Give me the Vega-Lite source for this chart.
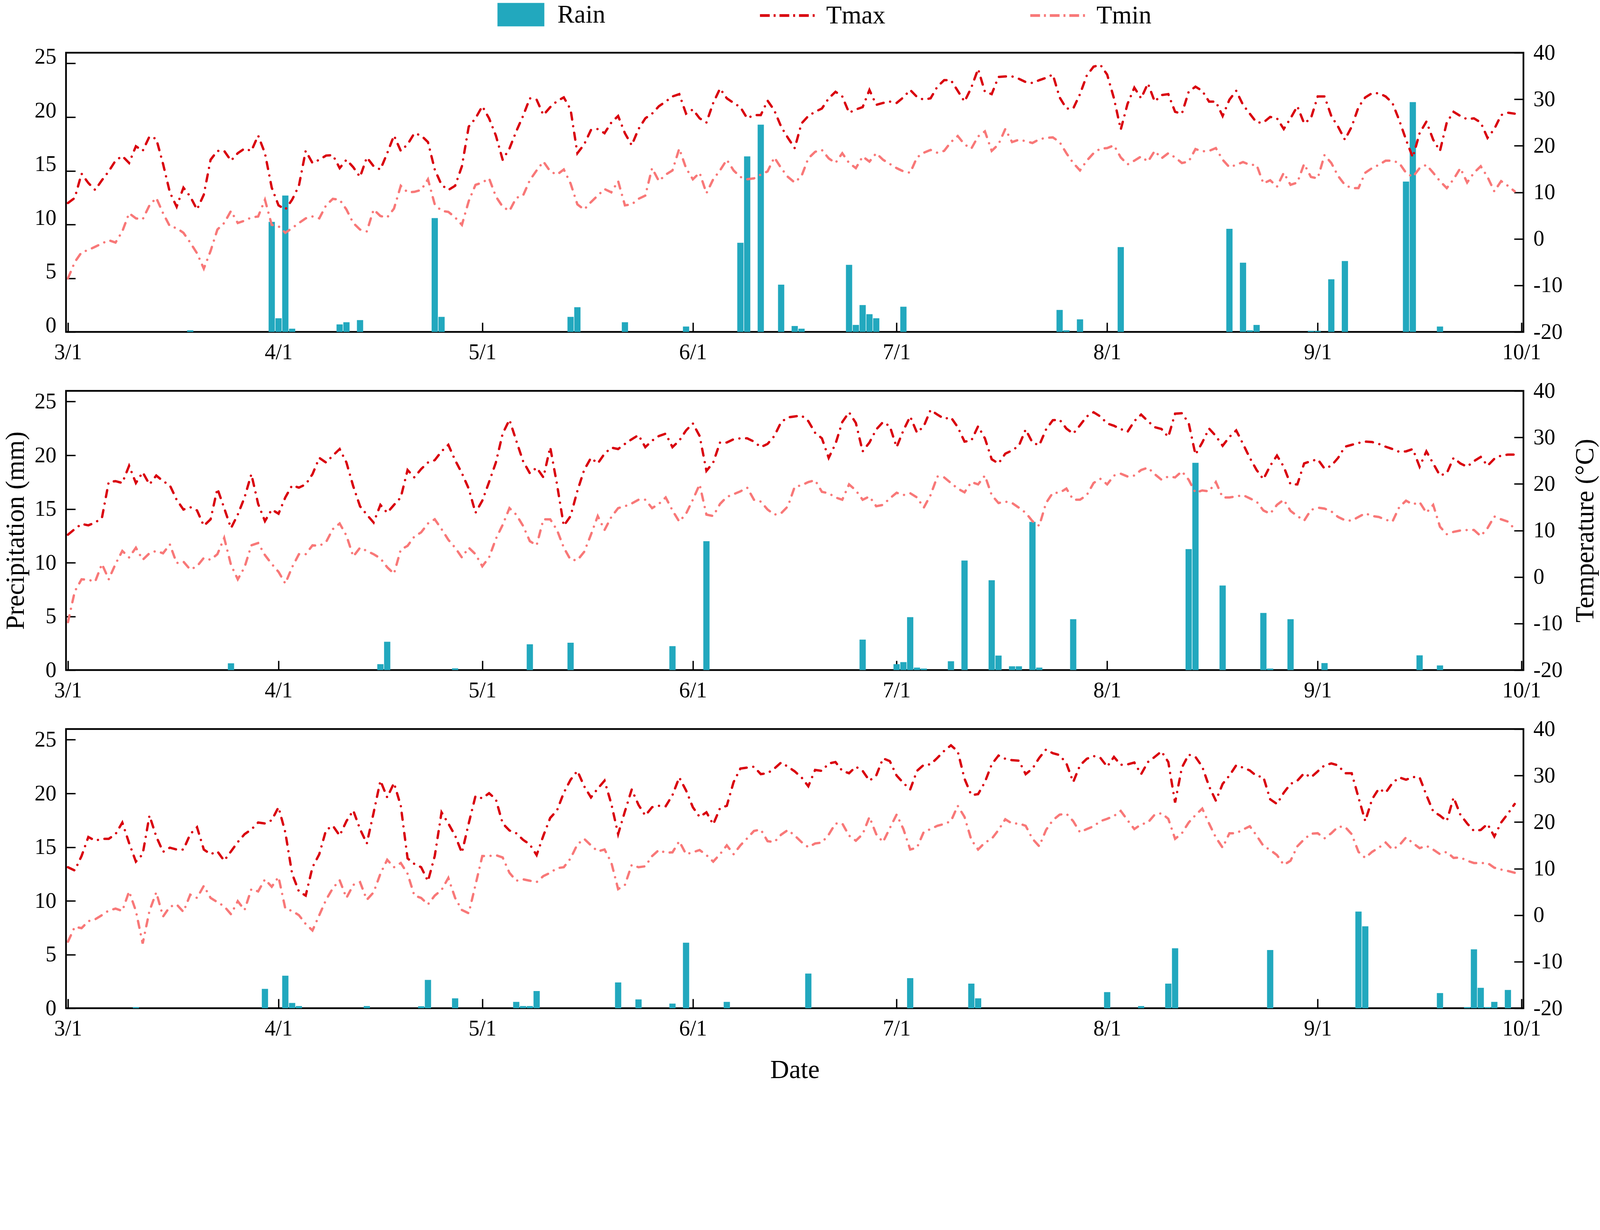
{
"$schema":"https://vega.github.io/schema/vega-lite/v6.json",
"background":"white",
"padding":{"left":3,"top":4,"right":0,"bottom":0},
"bounds":"flush",
"spacing":151,
"config":{
"view":{"stroke":"black","strokeWidth":4.4},
"font":"Liberation Serif",
"axis":{"labelFont":"Liberation Serif","labelFontSize":56,"labelColor":"black","titleFont":"Liberation Serif","titleFontSize":67,"titleFontWeight":"normal","titleColor":"black","domain":false,"grid":false,"tickColor":"black","tickWidth":3.5,"tickSize":-24,"labelPadding":49,"labelFlush":false,"labelOverlap":false}
},
"datasets":{
"rain2021":[{"date":"2021-03-19","rain":0.15},{"date":"2021-03-31","rain":10.25},{"date":"2021-04-01","rain":1.27},{"date":"2021-04-02","rain":12.7},{"date":"2021-04-03","rain":0.3},{"date":"2021-04-10","rain":0.7},{"date":"2021-04-11","rain":0.9},{"date":"2021-04-13","rain":1.1},{"date":"2021-04-24","rain":10.6},{"date":"2021-04-25","rain":1.4},{"date":"2021-05-14","rain":1.4},{"date":"2021-05-15","rain":2.3},{"date":"2021-05-22","rain":0.9},{"date":"2021-05-31","rain":0.5},{"date":"2021-06-08","rain":8.3},{"date":"2021-06-09","rain":16.35},{"date":"2021-06-11","rain":19.3},{"date":"2021-06-14","rain":4.4},{"date":"2021-06-16","rain":0.55},{"date":"2021-06-17","rain":0.3},{"date":"2021-06-24","rain":6.25},{"date":"2021-06-25","rain":0.65},{"date":"2021-06-26","rain":2.5},{"date":"2021-06-27","rain":1.65},{"date":"2021-06-28","rain":1.27},{"date":"2021-07-02","rain":2.35},{"date":"2021-07-25","rain":2.05},{"date":"2021-07-26","rain":0.15},{"date":"2021-07-28","rain":1.17},{"date":"2021-08-03","rain":7.9},{"date":"2021-08-19","rain":9.6},{"date":"2021-08-21","rain":6.45},{"date":"2021-08-22","rain":0.15},{"date":"2021-08-23","rain":0.65},{"date":"2021-08-31","rain":0.1},{"date":"2021-09-01","rain":0.1},{"date":"2021-09-03","rain":4.9},{"date":"2021-09-05","rain":6.6},{"date":"2021-09-14","rain":14.0},{"date":"2021-09-15","rain":21.4},{"date":"2021-09-19","rain":0.5}],
"rain2022":[{"date":"2022-03-25","rain":0.63},{"date":"2022-04-16","rain":0.55},{"date":"2022-04-17","rain":2.64},{"date":"2022-04-27","rain":0.16},{"date":"2022-05-08","rain":2.4},{"date":"2022-05-14","rain":2.55},{"date":"2022-05-29","rain":2.23},{"date":"2022-06-03","rain":12.0},{"date":"2022-06-26","rain":2.84},{"date":"2022-07-01","rain":0.55},{"date":"2022-07-02","rain":0.74},{"date":"2022-07-03","rain":4.93},{"date":"2022-07-04","rain":0.23},{"date":"2022-07-05","rain":0.14},{"date":"2022-07-09","rain":0.82},{"date":"2022-07-11","rain":10.2},{"date":"2022-07-15","rain":8.36},{"date":"2022-07-16","rain":1.35},{"date":"2022-07-18","rain":0.35},{"date":"2022-07-19","rain":0.35},{"date":"2022-07-21","rain":13.8},{"date":"2022-07-22","rain":0.23},{"date":"2022-07-27","rain":4.74},{"date":"2022-08-13","rain":11.26},{"date":"2022-08-14","rain":19.3},{"date":"2022-08-18","rain":7.87},{"date":"2022-08-24","rain":5.32},{"date":"2022-08-25","rain":0.14},{"date":"2022-08-28","rain":4.74},{"date":"2022-09-02","rain":0.65},{"date":"2022-09-16","rain":1.37},{"date":"2022-09-19","rain":0.43}],
"rain2023":[{"date":"2023-03-11","rain":0.1},{"date":"2023-03-30","rain":1.8},{"date":"2023-04-02","rain":3.03},{"date":"2023-04-03","rain":0.49},{"date":"2023-04-04","rain":0.2},{"date":"2023-04-14","rain":0.2},{"date":"2023-04-22","rain":0.18},{"date":"2023-04-23","rain":2.64},{"date":"2023-04-27","rain":0.92},{"date":"2023-05-06","rain":0.59},{"date":"2023-05-07","rain":0.2},{"date":"2023-05-08","rain":0.2},{"date":"2023-05-09","rain":1.6},{"date":"2023-05-21","rain":2.4},{"date":"2023-05-24","rain":0.82},{"date":"2023-05-29","rain":0.43},{"date":"2023-05-31","rain":6.1},{"date":"2023-06-06","rain":0.59},{"date":"2023-06-18","rain":3.23},{"date":"2023-07-03","rain":2.8},{"date":"2023-07-12","rain":2.29},{"date":"2023-07-13","rain":0.92},{"date":"2023-08-01","rain":1.5},{"date":"2023-08-06","rain":0.2},{"date":"2023-08-10","rain":2.29},{"date":"2023-08-11","rain":5.58},{"date":"2023-08-25","rain":5.42},{"date":"2023-09-07","rain":9.0},{"date":"2023-09-08","rain":7.63},{"date":"2023-09-19","rain":1.41},{"date":"2023-09-23","rain":0.1},{"date":"2023-09-24","rain":5.48},{"date":"2023-09-25","rain":1.9},{"date":"2023-09-26","rain":0.1},{"date":"2023-09-27","rain":0.59},{"date":"2023-09-29","rain":1.7}],
"temp2021":[
{"date":"2021-03-01","tmax":7.7,"tmin":-8.5},{"date":"2021-03-02","tmax":8.8,"tmin":-5.0},{"date":"2021-03-03","tmax":14.0,"tmin":-2.9},{"date":"2021-03-04","tmax":12.0,"tmin":-2.4},{"date":"2021-03-05","tmax":10.5,"tmin":-1.7},{"date":"2021-03-06","tmax":12.6,"tmin":-1.0},{"date":"2021-03-07","tmax":14.5,"tmin":-0.3},{"date":"2021-03-08","tmax":16.8,"tmin":-0.8},{"date":"2021-03-09","tmax":17.8,"tmin":1.6},{"date":"2021-03-10","tmax":16.3,"tmin":5.5},{"date":"2021-03-11","tmax":19.9,"tmin":4.4},{"date":"2021-03-12","tmax":18.9,"tmin":4.2},{"date":"2021-03-13","tmax":22.0,"tmin":7.2},{"date":"2021-03-14","tmax":21.5,"tmin":8.8},{"date":"2021-03-15","tmax":16.1,"tmin":5.5},{"date":"2021-03-16","tmax":10.0,"tmin":2.7},{"date":"2021-03-17","tmax":6.9,"tmin":2.3},{"date":"2021-03-18","tmax":11.0,"tmin":1.3},{"date":"2021-03-19","tmax":9.1,"tmin":-0.8},{"date":"2021-03-20","tmax":6.3,"tmin":-3.1},{"date":"2021-03-21","tmax":9.5,"tmin":-6.4},{"date":"2021-03-22","tmax":17.0,"tmin":-2.6},{"date":"2021-03-23","tmax":18.9,"tmin":2.0},{"date":"2021-03-24","tmax":18.9,"tmin":3.4},{"date":"2021-03-25","tmax":16.8,"tmin":6.0},{"date":"2021-03-26","tmax":18.4,"tmin":3.4},{"date":"2021-03-27","tmax":19.4,"tmin":3.9},{"date":"2021-03-28","tmax":18.9,"tmin":4.6},{"date":"2021-03-29","tmax":22.2,"tmin":4.8},{"date":"2021-03-30","tmax":18.4,"tmin":8.4},{"date":"2021-03-31","tmax":11.0,"tmin":3.0},
{"date":"2021-04-01","tmax":7.2,"tmin":2.7},{"date":"2021-04-02","tmax":6.3,"tmin":1.3},{"date":"2021-04-03","tmax":8.4,"tmin":2.3},{"date":"2021-04-04","tmax":11.4,"tmin":3.4},{"date":"2021-04-05","tmax":18.9,"tmin":4.4},{"date":"2021-04-06","tmax":16.3,"tmin":4.8},{"date":"2021-04-07","tmax":17.0,"tmin":4.4},{"date":"2021-04-08","tmax":17.9,"tmin":7.2},{"date":"2021-04-09","tmax":18.0,"tmin":8.6},{"date":"2021-04-10","tmax":15.2,"tmin":8.4},{"date":"2021-04-11","tmax":17.0,"tmin":6.3},{"date":"2021-04-12","tmax":15.4,"tmin":3.4},{"date":"2021-04-13","tmax":13.3,"tmin":2.0},{"date":"2021-04-14","tmax":17.5,"tmin":1.6},{"date":"2021-04-15","tmax":15.6,"tmin":6.3},{"date":"2021-04-16","tmax":14.9,"tmin":4.9},{"date":"2021-04-17","tmax":18.4,"tmin":4.6},{"date":"2021-04-18","tmax":22.2,"tmin":6.5},{"date":"2021-04-19","tmax":18.9,"tmin":11.4},{"date":"2021-04-20","tmax":20.3,"tmin":10.0},{"date":"2021-04-21","tmax":22.7,"tmin":10.1},{"date":"2021-04-22","tmax":22.2,"tmin":10.5},{"date":"2021-04-23","tmax":20.8,"tmin":12.8},{"date":"2021-04-24","tmax":14.9,"tmin":7.4},{"date":"2021-04-25","tmax":11.6,"tmin":6.0},{"date":"2021-04-26","tmax":10.5,"tmin":5.8},{"date":"2021-04-27","tmax":11.4,"tmin":4.6},{"date":"2021-04-28","tmax":15.6,"tmin":3.0},{"date":"2021-04-29","tmax":24.1,"tmin":8.1},{"date":"2021-04-30","tmax":25.9,"tmin":11.6},
{"date":"2021-05-01","tmax":28.5,"tmin":12.1},{"date":"2021-05-02","tmax":25.9,"tmin":13.0},{"date":"2021-05-03","tmax":22.2,"tmin":9.1},{"date":"2021-05-04","tmax":17.0,"tmin":6.9},{"date":"2021-05-05","tmax":19.4,"tmin":6.0},{"date":"2021-05-06","tmax":23.1,"tmin":8.8},{"date":"2021-05-07","tmax":26.4,"tmin":9.3},{"date":"2021-05-08","tmax":30.2,"tmin":12.6},{"date":"2021-05-09","tmax":29.9,"tmin":14.7},{"date":"2021-05-10","tmax":26.6,"tmin":16.6},{"date":"2021-05-11","tmax":28.3,"tmin":14.5},{"date":"2021-05-12","tmax":29.6,"tmin":13.8},{"date":"2021-05-13","tmax":30.4,"tmin":14.9},{"date":"2021-05-14","tmax":27.8,"tmin":11.9},{"date":"2021-05-15","tmax":18.4,"tmin":7.4},{"date":"2021-05-16","tmax":20.3,"tmin":6.3},{"date":"2021-05-17","tmax":23.4,"tmin":7.9},{"date":"2021-05-18","tmax":23.6,"tmin":9.3},{"date":"2021-05-19","tmax":22.7,"tmin":10.7},{"date":"2021-05-20","tmax":25.0,"tmin":10.0},{"date":"2021-05-21","tmax":26.4,"tmin":12.4},{"date":"2021-05-22","tmax":22.7,"tmin":7.2},{"date":"2021-05-23","tmax":20.1,"tmin":7.4},{"date":"2021-05-24","tmax":23.6,"tmin":8.6},{"date":"2021-05-25","tmax":25.9,"tmin":9.3},{"date":"2021-05-26","tmax":26.9,"tmin":15.2},{"date":"2021-05-27","tmax":28.5,"tmin":12.4},{"date":"2021-05-28","tmax":29.5,"tmin":13.8},{"date":"2021-05-29","tmax":30.6,"tmin":14.7},{"date":"2021-05-30","tmax":31.1,"tmin":19.4},{"date":"2021-05-31","tmax":26.9,"tmin":15.2},
{"date":"2021-06-01","tmax":27.8,"tmin":12.8},{"date":"2021-06-02","tmax":25.9,"tmin":14.2},{"date":"2021-06-03","tmax":25.0,"tmin":9.8},{"date":"2021-06-04","tmax":29.2,"tmin":12.8},{"date":"2021-06-05","tmax":32.3,"tmin":14.7},{"date":"2021-06-06","tmax":30.2,"tmin":17.0},{"date":"2021-06-07","tmax":29.2,"tmin":14.7},{"date":"2021-06-08","tmax":28.3,"tmin":13.3},{"date":"2021-06-09","tmax":25.9,"tmin":12.8},{"date":"2021-06-10","tmax":26.6,"tmin":13.0},{"date":"2021-06-11","tmax":26.6,"tmin":13.8},{"date":"2021-06-12","tmax":29.7,"tmin":14.5},{"date":"2021-06-13","tmax":27.6,"tmin":17.5},{"date":"2021-06-14","tmax":24.1,"tmin":15.2},{"date":"2021-06-15","tmax":21.7,"tmin":13.3},{"date":"2021-06-16","tmax":19.5,"tmin":12.1},{"date":"2021-06-17","tmax":24.8,"tmin":13.5},{"date":"2021-06-18","tmax":26.4,"tmin":17.3},{"date":"2021-06-19","tmax":27.3,"tmin":18.7},{"date":"2021-06-20","tmax":28.0,"tmin":19.1},{"date":"2021-06-21","tmax":30.2,"tmin":17.3},{"date":"2021-06-22","tmax":31.6,"tmin":16.3},{"date":"2021-06-23","tmax":30.6,"tmin":18.4},{"date":"2021-06-24","tmax":27.1,"tmin":16.3},{"date":"2021-06-25","tmax":27.8,"tmin":15.2},{"date":"2021-06-26","tmax":28.3,"tmin":17.7},{"date":"2021-06-27","tmax":32.0,"tmin":16.6},{"date":"2021-06-28","tmax":28.8,"tmin":18.4},{"date":"2021-06-29","tmax":29.2,"tmin":17.0},{"date":"2021-06-30","tmax":29.5,"tmin":16.1},
{"date":"2021-07-01","tmax":29.2,"tmin":15.2},{"date":"2021-07-02","tmax":30.4,"tmin":14.5},{"date":"2021-07-03","tmax":32.0,"tmin":14.2},{"date":"2021-07-04","tmax":30.5,"tmin":17.5},{"date":"2021-07-05","tmax":29.9,"tmin":18.5},{"date":"2021-07-06","tmax":30.2,"tmin":19.1},{"date":"2021-07-07","tmax":32.7,"tmin":18.5},{"date":"2021-07-08","tmax":34.1,"tmin":18.9},{"date":"2021-07-09","tmax":34.1,"tmin":20.8},{"date":"2021-07-10","tmax":31.8,"tmin":22.1},{"date":"2021-07-11","tmax":29.5,"tmin":20.3},{"date":"2021-07-12","tmax":32.5,"tmin":19.4},{"date":"2021-07-13","tmax":36.5,"tmin":22.0},{"date":"2021-07-14","tmax":31.6,"tmin":23.1},{"date":"2021-07-15","tmax":31.1,"tmin":18.9},{"date":"2021-07-16","tmax":34.8,"tmin":20.3},{"date":"2021-07-17","tmax":34.9,"tmin":23.6},{"date":"2021-07-18","tmax":34.9,"tmin":20.8},{"date":"2021-07-19","tmax":34.4,"tmin":21.3},{"date":"2021-07-20","tmax":33.7,"tmin":21.0},{"date":"2021-07-21","tmax":33.5,"tmin":20.6},{"date":"2021-07-22","tmax":34.1,"tmin":21.4},{"date":"2021-07-23","tmax":34.6,"tmin":21.7},{"date":"2021-07-24","tmax":35.3,"tmin":21.8},{"date":"2021-07-25","tmax":30.4,"tmin":20.8},{"date":"2021-07-26","tmax":28.0,"tmin":18.4},{"date":"2021-07-27","tmax":28.0,"tmin":16.3},{"date":"2021-07-28","tmax":31.1,"tmin":14.7},{"date":"2021-07-29","tmax":35.1,"tmin":16.8},{"date":"2021-07-30","tmax":37.0,"tmin":18.4},{"date":"2021-07-31","tmax":37.4,"tmin":19.4},
{"date":"2021-08-01","tmax":35.3,"tmin":19.5},{"date":"2021-08-02","tmax":30.2,"tmin":20.1},{"date":"2021-08-03","tmax":23.5,"tmin":17.5},{"date":"2021-08-04","tmax":29.0,"tmin":16.0},{"date":"2021-08-05","tmax":32.5,"tmin":16.8},{"date":"2021-08-06","tmax":30.2,"tmin":17.7},{"date":"2021-08-07","tmax":33.4,"tmin":16.6},{"date":"2021-08-08","tmax":29.5,"tmin":18.9},{"date":"2021-08-09","tmax":30.9,"tmin":17.3},{"date":"2021-08-10","tmax":31.1,"tmin":18.4},{"date":"2021-08-11","tmax":27.3,"tmin":17.5},{"date":"2021-08-12","tmax":26.9,"tmin":16.3},{"date":"2021-08-13","tmax":31.6,"tmin":16.6},{"date":"2021-08-14","tmax":32.7,"tmin":19.3},{"date":"2021-08-15","tmax":31.8,"tmin":18.8},{"date":"2021-08-16","tmax":29.5,"tmin":18.9},{"date":"2021-08-17","tmax":29.5,"tmin":19.5},{"date":"2021-08-18","tmax":26.4,"tmin":17.0},{"date":"2021-08-19","tmax":29.9,"tmin":15.4},{"date":"2021-08-20","tmax":31.8,"tmin":15.9},{"date":"2021-08-21","tmax":28.8,"tmin":16.5},{"date":"2021-08-22","tmax":26.9,"tmin":15.9},{"date":"2021-08-23","tmax":25.0,"tmin":15.9},{"date":"2021-08-24","tmax":25.0,"tmin":11.9},{"date":"2021-08-25","tmax":26.2,"tmin":12.6},{"date":"2021-08-26","tmax":25.9,"tmin":11.2},{"date":"2021-08-27","tmax":23.6,"tmin":14.2},{"date":"2021-08-28","tmax":25.9,"tmin":11.6},{"date":"2021-08-29","tmax":28.5,"tmin":12.1},{"date":"2021-08-30","tmax":24.8,"tmin":16.1},{"date":"2021-08-31","tmax":25.9,"tmin":13.3},
{"date":"2021-09-01","tmax":30.6,"tmin":13.0},{"date":"2021-09-02","tmax":30.6,"tmin":18.0},{"date":"2021-09-03","tmax":26.4,"tmin":16.3},{"date":"2021-09-04","tmax":24.1,"tmin":13.5},{"date":"2021-09-05","tmax":21.3,"tmin":11.6},{"date":"2021-09-06","tmax":24.1,"tmin":10.9},{"date":"2021-09-07","tmax":28.3,"tmin":10.9},{"date":"2021-09-08","tmax":30.4,"tmin":14.2},{"date":"2021-09-09","tmax":31.3,"tmin":15.2},{"date":"2021-09-10","tmax":31.3,"tmin":15.9},{"date":"2021-09-11","tmax":30.6,"tmin":16.8},{"date":"2021-09-12","tmax":29.2,"tmin":16.8},{"date":"2021-09-13","tmax":25.5,"tmin":16.3},{"date":"2021-09-14","tmax":21.3,"tmin":14.2},{"date":"2021-09-15","tmax":17.5,"tmin":13.3},{"date":"2021-09-16","tmax":22.7,"tmin":15.2},{"date":"2021-09-17","tmax":25.2,"tmin":15.9},{"date":"2021-09-18","tmax":21.3,"tmin":14.2},{"date":"2021-09-19","tmax":18.9,"tmin":12.4},{"date":"2021-09-20","tmax":25.0,"tmin":10.9},{"date":"2021-09-21","tmax":27.3,"tmin":12.8},{"date":"2021-09-22","tmax":26.4,"tmin":15.2},{"date":"2021-09-23","tmax":25.7,"tmin":12.1},{"date":"2021-09-24","tmax":25.9,"tmin":14.2},{"date":"2021-09-25","tmax":25.0,"tmin":15.6},{"date":"2021-09-26","tmax":21.7,"tmin":13.3},{"date":"2021-09-27","tmax":23.6,"tmin":10.2},{"date":"2021-09-28","tmax":26.6,"tmin":12.4},{"date":"2021-09-29","tmax":27.1,"tmin":11.4},{"date":"2021-09-30","tmax":26.9,"tmin":10.2}],
"temp2022":[
{"date":"2022-03-01","tmax":9.1,"tmin":-9.7},{"date":"2022-03-02","tmax":10.3,"tmin":-3.1},{"date":"2022-03-03","tmax":11.4,"tmin":-0.5},{"date":"2022-03-04","tmax":11.1,"tmin":-0.6},{"date":"2022-03-05","tmax":11.7,"tmin":-1.0},{"date":"2022-03-06","tmax":12.7,"tmin":2.8},{"date":"2022-03-07","tmax":20.4,"tmin":-0.5},{"date":"2022-03-08","tmax":20.6,"tmin":2.8},{"date":"2022-03-09","tmax":20.2,"tmin":5.6},{"date":"2022-03-10","tmax":23.9,"tmin":4.2},{"date":"2022-03-11","tmax":20.2,"tmin":6.3},{"date":"2022-03-12","tmax":22.5,"tmin":3.7},{"date":"2022-03-13","tmax":19.9,"tmin":5.1},{"date":"2022-03-14","tmax":21.8,"tmin":5.6},{"date":"2022-03-15","tmax":20.6,"tmin":5.1},{"date":"2022-03-16","tmax":19.7,"tmin":7.0},{"date":"2022-03-17","tmax":16.6,"tmin":3.0},{"date":"2022-03-18","tmax":14.5,"tmin":3.3},{"date":"2022-03-19","tmax":15.0,"tmin":1.6},{"date":"2022-03-20","tmax":14.3,"tmin":2.3},{"date":"2022-03-21","tmax":11.0,"tmin":4.1},{"date":"2022-03-22","tmax":12.4,"tmin":3.7},{"date":"2022-03-23","tmax":19.0,"tmin":4.9},{"date":"2022-03-24","tmax":14.8,"tmin":8.4},{"date":"2022-03-25","tmax":10.5,"tmin":2.6},{"date":"2022-03-26","tmax":13.4,"tmin":-0.5},{"date":"2022-03-27","tmax":17.1,"tmin":2.1},{"date":"2022-03-28","tmax":22.1,"tmin":6.8},{"date":"2022-03-29","tmax":15.7,"tmin":7.3},{"date":"2022-03-30","tmax":12.0,"tmin":4.7},{"date":"2022-03-31","tmax":14.5,"tmin":2.8},
{"date":"2022-04-01","tmax":13.6,"tmin":1.1},{"date":"2022-04-02","tmax":17.1,"tmin":-1.4},{"date":"2022-04-03","tmax":19.7,"tmin":2.1},{"date":"2022-04-04","tmax":19.2,"tmin":4.9},{"date":"2022-04-05","tmax":19.9,"tmin":4.9},{"date":"2022-04-06","tmax":22.1,"tmin":6.8},{"date":"2022-04-07","tmax":25.6,"tmin":6.7},{"date":"2022-04-08","tmax":24.6,"tmin":7.5},{"date":"2022-04-09","tmax":26.1,"tmin":10.3},{"date":"2022-04-10","tmax":27.5,"tmin":11.5},{"date":"2022-04-11","tmax":24.6,"tmin":8.9},{"date":"2022-04-12","tmax":19.5,"tmin":4.4},{"date":"2022-04-13","tmax":15.2,"tmin":6.3},{"date":"2022-04-14","tmax":13.4,"tmin":5.6},{"date":"2022-04-15","tmax":11.7,"tmin":4.9},{"date":"2022-04-16","tmax":15.5,"tmin":4.0},{"date":"2022-04-17","tmax":13.8,"tmin":2.1},{"date":"2022-04-18","tmax":15.5,"tmin":0.7},{"date":"2022-04-19","tmax":17.1,"tmin":5.9},{"date":"2022-04-20","tmax":23.0,"tmin":6.7},{"date":"2022-04-21","tmax":21.4,"tmin":8.7},{"date":"2022-04-22","tmax":23.2,"tmin":9.6},{"date":"2022-04-23","tmax":24.6,"tmin":11.5},{"date":"2022-04-24","tmax":25.1,"tmin":12.4},{"date":"2022-04-25","tmax":27.0,"tmin":10.3},{"date":"2022-04-26","tmax":28.4,"tmin":8.0},{"date":"2022-04-27","tmax":25.1,"tmin":6.3},{"date":"2022-04-28","tmax":22.3,"tmin":4.2},{"date":"2022-04-29","tmax":19.0,"tmin":6.3},{"date":"2022-04-30","tmax":13.8,"tmin":4.9},
{"date":"2022-05-01","tmax":16.4,"tmin":2.3},{"date":"2022-05-02","tmax":20.4,"tmin":4.2},{"date":"2022-05-03","tmax":24.6,"tmin":8.2},{"date":"2022-05-04","tmax":30.8,"tmin":11.2},{"date":"2022-05-05","tmax":33.8,"tmin":14.8},{"date":"2022-05-06","tmax":29.3,"tmin":13.4},{"date":"2022-05-07","tmax":24.9,"tmin":11.0},{"date":"2022-05-08","tmax":22.3,"tmin":7.7},{"date":"2022-05-09","tmax":23.5,"tmin":6.8},{"date":"2022-05-10","tmax":21.4,"tmin":12.4},{"date":"2022-05-11","tmax":27.9,"tmin":12.4},{"date":"2022-05-12","tmax":19.9,"tmin":10.1},{"date":"2022-05-13","tmax":11.0,"tmin":6.3},{"date":"2022-05-14","tmax":13.1,"tmin":3.7},{"date":"2022-05-15","tmax":18.5,"tmin":3.6},{"date":"2022-05-16","tmax":23.0,"tmin":5.4},{"date":"2022-05-17","tmax":25.6,"tmin":9.1},{"date":"2022-05-18","tmax":24.4,"tmin":13.1},{"date":"2022-05-19","tmax":26.5,"tmin":10.1},{"date":"2022-05-20","tmax":27.8,"tmin":12.9},{"date":"2022-05-21","tmax":27.5,"tmin":14.8},{"date":"2022-05-22","tmax":28.6,"tmin":15.2},{"date":"2022-05-23","tmax":29.6,"tmin":15.8},{"date":"2022-05-24","tmax":30.5,"tmin":16.6},{"date":"2022-05-25","tmax":27.9,"tmin":16.6},{"date":"2022-05-26","tmax":29.3,"tmin":14.8},{"date":"2022-05-27","tmax":30.3,"tmin":15.7},{"date":"2022-05-28","tmax":30.8,"tmin":17.1},{"date":"2022-05-29","tmax":27.9,"tmin":14.3},{"date":"2022-05-30","tmax":29.3,"tmin":11.9},{"date":"2022-05-31","tmax":31.5,"tmin":13.6},
{"date":"2022-06-01","tmax":33.0,"tmin":16.6},{"date":"2022-06-02","tmax":30.3,"tmin":19.9},{"date":"2022-06-03","tmax":22.8,"tmin":13.4},{"date":"2022-06-04","tmax":24.6,"tmin":13.1},{"date":"2022-06-05","tmax":28.9,"tmin":15.7},{"date":"2022-06-06","tmax":28.9,"tmin":17.2},{"date":"2022-06-07","tmax":29.6,"tmin":17.8},{"date":"2022-06-08","tmax":29.8,"tmin":18.4},{"date":"2022-06-09","tmax":29.8,"tmin":19.2},{"date":"2022-06-10","tmax":29.1,"tmin":16.6},{"date":"2022-06-11","tmax":27.9,"tmin":16.2},{"date":"2022-06-12","tmax":28.6,"tmin":14.5},{"date":"2022-06-13","tmax":30.3,"tmin":13.4},{"date":"2022-06-14","tmax":33.3,"tmin":13.7},{"date":"2022-06-15","tmax":34.3,"tmin":15.2},{"date":"2022-06-16","tmax":34.5,"tmin":19.4},{"date":"2022-06-17","tmax":34.7,"tmin":19.7},{"date":"2022-06-18","tmax":33.5,"tmin":20.4},{"date":"2022-06-19","tmax":31.0,"tmin":20.8},{"date":"2022-06-20","tmax":29.8,"tmin":18.3},{"date":"2022-06-21","tmax":25.6,"tmin":18.0},{"date":"2022-06-22","tmax":28.6,"tmin":17.1},{"date":"2022-06-23","tmax":33.3,"tmin":16.6},{"date":"2022-06-24","tmax":35.4,"tmin":19.9},{"date":"2022-06-25","tmax":33.1,"tmin":18.6},{"date":"2022-06-26","tmax":27.0,"tmin":16.6},{"date":"2022-06-27","tmax":28.9,"tmin":17.3},{"date":"2022-06-28","tmax":31.7,"tmin":15.2},{"date":"2022-06-29","tmax":33.3,"tmin":15.5},{"date":"2022-06-30","tmax":32.4,"tmin":16.9},
{"date":"2022-07-01","tmax":27.9,"tmin":18.1},{"date":"2022-07-02","tmax":31.5,"tmin":17.6},{"date":"2022-07-03","tmax":34.5,"tmin":18.0},{"date":"2022-07-04","tmax":31.0,"tmin":17.1},{"date":"2022-07-05","tmax":32.4,"tmin":14.9},{"date":"2022-07-06","tmax":35.9,"tmin":17.6},{"date":"2022-07-07","tmax":34.9,"tmin":21.6},{"date":"2022-07-08","tmax":34.0,"tmin":21.4},{"date":"2022-07-09","tmax":34.3,"tmin":20.2},{"date":"2022-07-10","tmax":32.2,"tmin":19.0},{"date":"2022-07-11","tmax":29.1,"tmin":18.2},{"date":"2022-07-12","tmax":29.3,"tmin":20.4},{"date":"2022-07-13","tmax":32.4,"tmin":19.9},{"date":"2022-07-14","tmax":29.8,"tmin":21.8},{"date":"2022-07-15","tmax":25.3,"tmin":17.6},{"date":"2022-07-16","tmax":24.4,"tmin":15.9},{"date":"2022-07-17","tmax":26.5,"tmin":16.2},{"date":"2022-07-18","tmax":27.2,"tmin":15.9},{"date":"2022-07-19","tmax":28.2,"tmin":14.9},{"date":"2022-07-20","tmax":31.7,"tmin":13.8},{"date":"2022-07-21","tmax":28.9,"tmin":12.0},{"date":"2022-07-22","tmax":28.3,"tmin":11.0},{"date":"2022-07-23","tmax":31.7,"tmin":15.9},{"date":"2022-07-24","tmax":33.7,"tmin":18.1},{"date":"2022-07-25","tmax":33.8,"tmin":18.1},{"date":"2022-07-26","tmax":31.9,"tmin":19.0},{"date":"2022-07-27","tmax":30.8,"tmin":16.6},{"date":"2022-07-28","tmax":32.6,"tmin":16.6},{"date":"2022-07-29","tmax":34.5,"tmin":17.6},{"date":"2022-07-30","tmax":35.4,"tmin":20.2},{"date":"2022-07-31","tmax":34.5,"tmin":21.1},
{"date":"2022-08-01","tmax":33.0,"tmin":19.9},{"date":"2022-08-02","tmax":32.5,"tmin":21.8},{"date":"2022-08-03","tmax":31.8,"tmin":22.2},{"date":"2022-08-04","tmax":31.2,"tmin":21.6},{"date":"2022-08-05","tmax":33.5,"tmin":21.8},{"date":"2022-08-06","tmax":34.9,"tmin":23.0},{"date":"2022-08-07","tmax":33.5,"tmin":23.5},{"date":"2022-08-08","tmax":32.2,"tmin":22.1},{"date":"2022-08-09","tmax":31.8,"tmin":20.9},{"date":"2022-08-10","tmax":30.1,"tmin":21.6},{"date":"2022-08-11","tmax":35.1,"tmin":21.4},{"date":"2022-08-12","tmax":35.2,"tmin":22.7},{"date":"2022-08-13","tmax":33.1,"tmin":20.9},{"date":"2022-08-14","tmax":26.3,"tmin":18.1},{"date":"2022-08-15","tmax":28.9,"tmin":18.6},{"date":"2022-08-16","tmax":31.9,"tmin":18.4},{"date":"2022-08-17","tmax":30.3,"tmin":20.4},{"date":"2022-08-18","tmax":28.2,"tmin":17.1},{"date":"2022-08-19","tmax":30.1,"tmin":17.1},{"date":"2022-08-20","tmax":31.5,"tmin":17.3},{"date":"2022-08-21","tmax":28.6,"tmin":17.6},{"date":"2022-08-22","tmax":25.6,"tmin":16.9},{"date":"2022-08-23","tmax":23.0,"tmin":16.2},{"date":"2022-08-24","tmax":21.0,"tmin":14.3},{"date":"2022-08-25","tmax":23.9,"tmin":13.6},{"date":"2022-08-26","tmax":26.1,"tmin":15.5},{"date":"2022-08-27","tmax":23.7,"tmin":16.6},{"date":"2022-08-28","tmax":19.9,"tmin":14.2},{"date":"2022-08-29","tmax":19.9,"tmin":13.1},{"date":"2022-08-30","tmax":24.4,"tmin":12.1},{"date":"2022-08-31","tmax":24.9,"tmin":14.4},
{"date":"2022-09-01","tmax":25.3,"tmin":14.9},{"date":"2022-09-02","tmax":23.3,"tmin":14.7},{"date":"2022-09-03","tmax":23.9,"tmin":14.1},{"date":"2022-09-04","tmax":25.6,"tmin":12.9},{"date":"2022-09-05","tmax":28.0,"tmin":12.2},{"date":"2022-09-06","tmax":28.4,"tmin":12.1},{"date":"2022-09-07","tmax":28.8,"tmin":12.9},{"date":"2022-09-08","tmax":29.1,"tmin":13.7},{"date":"2022-09-09","tmax":29.0,"tmin":13.1},{"date":"2022-09-10","tmax":28.6,"tmin":12.9},{"date":"2022-09-11","tmax":28.0,"tmin":12.3},{"date":"2022-09-12","tmax":27.5,"tmin":11.9},{"date":"2022-09-13","tmax":26.9,"tmin":15.0},{"date":"2022-09-14","tmax":27.0,"tmin":16.4},{"date":"2022-09-15","tmax":27.5,"tmin":15.6},{"date":"2022-09-16","tmax":23.7,"tmin":16.1},{"date":"2022-09-17","tmax":27.0,"tmin":13.8},{"date":"2022-09-18","tmax":24.4,"tmin":15.5},{"date":"2022-09-19","tmax":21.8,"tmin":10.8},{"date":"2022-09-20","tmax":22.3,"tmin":9.2},{"date":"2022-09-21","tmax":25.6,"tmin":9.7},{"date":"2022-09-22","tmax":24.4,"tmin":10.0},{"date":"2022-09-23","tmax":23.7,"tmin":10.1},{"date":"2022-09-24","tmax":24.9,"tmin":10.1},{"date":"2022-09-25","tmax":25.8,"tmin":8.8},{"date":"2022-09-26","tmax":23.9,"tmin":10.5},{"date":"2022-09-27","tmax":25.4,"tmin":13.0},{"date":"2022-09-28","tmax":26.1,"tmin":12.4},{"date":"2022-09-29","tmax":26.3,"tmin":11.9},{"date":"2022-09-30","tmax":26.3,"tmin":10.3}],
"temp2023":[
{"date":"2023-03-01","tmax":10.3,"tmin":-5.7},{"date":"2023-03-02","tmax":9.6,"tmin":-2.5},{"date":"2023-03-03","tmax":12.7,"tmin":-2.8},{"date":"2023-03-04","tmax":16.8,"tmin":-1.3},{"date":"2023-03-05","tmax":16.0,"tmin":-0.9},{"date":"2023-03-06","tmax":16.4,"tmin":0.0},{"date":"2023-03-07","tmax":16.4,"tmin":1.0},{"date":"2023-03-08","tmax":17.4,"tmin":1.4},{"date":"2023-03-09","tmax":19.9,"tmin":0.9},{"date":"2023-03-10","tmax":15.5,"tmin":5.1},{"date":"2023-03-11","tmax":11.5,"tmin":0.9},{"date":"2023-03-12","tmax":13.1,"tmin":-6.1},{"date":"2023-03-13","tmax":21.4,"tmin":0.9},{"date":"2023-03-14","tmax":16.9,"tmin":4.9},{"date":"2023-03-15","tmax":13.6,"tmin":-0.3},{"date":"2023-03-16","tmax":14.5,"tmin":1.8},{"date":"2023-03-17","tmax":14.1,"tmin":2.3},{"date":"2023-03-18","tmax":14.1,"tmin":0.7},{"date":"2023-03-19","tmax":17.4,"tmin":4.4},{"date":"2023-03-20","tmax":18.9,"tmin":3.7},{"date":"2023-03-21","tmax":14.1,"tmin":6.3},{"date":"2023-03-22","tmax":13.1,"tmin":3.7},{"date":"2023-03-23","tmax":13.7,"tmin":2.8},{"date":"2023-03-24","tmax":11.7,"tmin":1.9},{"date":"2023-03-25","tmax":13.7,"tmin":0.2},{"date":"2023-03-26","tmax":15.7,"tmin":3.0},{"date":"2023-03-27","tmax":17.4,"tmin":1.1},{"date":"2023-03-28","tmax":18.4,"tmin":5.6},{"date":"2023-03-29","tmax":19.9,"tmin":5.1},{"date":"2023-03-30","tmax":19.7,"tmin":7.7},{"date":"2023-03-31","tmax":20.4,"tmin":6.1},
{"date":"2023-04-01","tmax":23.2,"tmin":8.2},{"date":"2023-04-02","tmax":17.8,"tmin":1.4},{"date":"2023-04-03","tmax":8.9,"tmin":0.9},{"date":"2023-04-04","tmax":5.1,"tmin":0.0},{"date":"2023-04-05","tmax":4.2,"tmin":-1.9},{"date":"2023-04-06","tmax":10.3,"tmin":-3.3},{"date":"2023-04-07","tmax":13.1,"tmin":0.0},{"date":"2023-04-08","tmax":18.3,"tmin":3.3},{"date":"2023-04-09","tmax":19.2,"tmin":5.8},{"date":"2023-04-10","tmax":17.1,"tmin":7.5},{"date":"2023-04-11","tmax":20.2,"tmin":3.7},{"date":"2023-04-12","tmax":22.5,"tmin":6.5},{"date":"2023-04-13","tmax":18.5,"tmin":7.1},{"date":"2023-04-14","tmax":15.4,"tmin":3.3},{"date":"2023-04-15","tmax":22.0,"tmin":4.9},{"date":"2023-04-16","tmax":28.9,"tmin":8.9},{"date":"2023-04-17","tmax":25.3,"tmin":11.9},{"date":"2023-04-18","tmax":28.4,"tmin":10.3},{"date":"2023-04-19","tmax":23.5,"tmin":11.2},{"date":"2023-04-20","tmax":12.2,"tmin":8.9},{"date":"2023-04-21","tmax":11.0,"tmin":4.2},{"date":"2023-04-22","tmax":10.3,"tmin":3.7},{"date":"2023-04-23","tmax":7.3,"tmin":2.3},{"date":"2023-04-24","tmax":12.7,"tmin":4.2},{"date":"2023-04-25","tmax":22.1,"tmin":5.4},{"date":"2023-04-26","tmax":19.7,"tmin":8.0},{"date":"2023-04-27","tmax":17.1,"tmin":3.7},{"date":"2023-04-28","tmax":13.4,"tmin":1.1},{"date":"2023-04-29","tmax":19.7,"tmin":0.4},{"date":"2023-04-30","tmax":25.6,"tmin":6.5},
{"date":"2023-05-01","tmax":25.1,"tmin":12.7},{"date":"2023-05-02","tmax":26.2,"tmin":12.7},{"date":"2023-05-03","tmax":24.9,"tmin":12.9},{"date":"2023-05-04","tmax":19.7,"tmin":12.4},{"date":"2023-05-05","tmax":18.2,"tmin":9.1},{"date":"2023-05-06","tmax":17.6,"tmin":7.4},{"date":"2023-05-07","tmax":16.2,"tmin":7.7},{"date":"2023-05-08","tmax":15.2,"tmin":7.4},{"date":"2023-05-09","tmax":12.9,"tmin":7.1},{"date":"2023-05-10","tmax":17.1,"tmin":8.4},{"date":"2023-05-11","tmax":20.9,"tmin":9.1},{"date":"2023-05-12","tmax":22.5,"tmin":10.1},{"date":"2023-05-13","tmax":26.3,"tmin":10.3},{"date":"2023-05-14","tmax":29.1,"tmin":12.2},{"date":"2023-05-15","tmax":31.0,"tmin":15.2},{"date":"2023-05-16","tmax":27.7,"tmin":16.4},{"date":"2023-05-17","tmax":25.3,"tmin":15.0},{"date":"2023-05-18","tmax":27.2,"tmin":13.7},{"date":"2023-05-19","tmax":28.9,"tmin":14.1},{"date":"2023-05-20","tmax":23.9,"tmin":11.3},{"date":"2023-05-21","tmax":17.4,"tmin":5.6},{"date":"2023-05-22","tmax":22.3,"tmin":6.5},{"date":"2023-05-23","tmax":27.0,"tmin":10.8},{"date":"2023-05-24","tmax":23.7,"tmin":10.3},{"date":"2023-05-25","tmax":21.4,"tmin":10.5},{"date":"2023-05-26","tmax":23.2,"tmin":12.7},{"date":"2023-05-27","tmax":23.5,"tmin":14.0},{"date":"2023-05-28","tmax":23.4,"tmin":13.4},{"date":"2023-05-29","tmax":25.8,"tmin":13.5},{"date":"2023-05-30","tmax":29.6,"tmin":15.9},{"date":"2023-05-31","tmax":26.8,"tmin":13.1},
{"date":"2023-06-01","tmax":23.2,"tmin":13.5},{"date":"2023-06-02","tmax":21.1,"tmin":14.0},{"date":"2023-06-03","tmax":22.1,"tmin":12.9},{"date":"2023-06-04","tmax":19.5,"tmin":11.5},{"date":"2023-06-05","tmax":23.0,"tmin":13.1},{"date":"2023-06-06","tmax":23.5,"tmin":15.0},{"date":"2023-06-07","tmax":28.6,"tmin":13.1},{"date":"2023-06-08","tmax":31.5,"tmin":15.0},{"date":"2023-06-09","tmax":31.7,"tmin":16.5},{"date":"2023-06-10","tmax":31.9,"tmin":18.1},{"date":"2023-06-11","tmax":30.3,"tmin":18.4},{"date":"2023-06-12","tmax":30.5,"tmin":15.9},{"date":"2023-06-13","tmax":31.5,"tmin":15.7},{"date":"2023-06-14","tmax":32.8,"tmin":17.3},{"date":"2023-06-15","tmax":31.9,"tmin":18.3},{"date":"2023-06-16","tmax":30.9,"tmin":17.1},{"date":"2023-06-17","tmax":29.6,"tmin":15.7},{"date":"2023-06-18","tmax":27.7,"tmin":14.6},{"date":"2023-06-19","tmax":31.2,"tmin":15.4},{"date":"2023-06-20","tmax":31.0,"tmin":15.6},{"date":"2023-06-21","tmax":32.6,"tmin":17.3},{"date":"2023-06-22","tmax":32.9,"tmin":19.7},{"date":"2023-06-23","tmax":31.0,"tmin":19.7},{"date":"2023-06-24","tmax":30.5,"tmin":17.1},{"date":"2023-06-25","tmax":31.9,"tmin":16.0},{"date":"2023-06-26","tmax":31.0,"tmin":17.4},{"date":"2023-06-27","tmax":28.9,"tmin":21.1},{"date":"2023-06-28","tmax":30.0,"tmin":17.4},{"date":"2023-06-29","tmax":33.7,"tmin":15.7},{"date":"2023-06-30","tmax":33.1,"tmin":18.7},
{"date":"2023-07-01","tmax":30.0,"tmin":21.6},{"date":"2023-07-02","tmax":28.4,"tmin":18.5},{"date":"2023-07-03","tmax":27.0,"tmin":14.1},{"date":"2023-07-04","tmax":31.0,"tmin":14.5},{"date":"2023-07-05","tmax":32.3,"tmin":17.9},{"date":"2023-07-06","tmax":32.4,"tmin":18.5},{"date":"2023-07-07","tmax":33.8,"tmin":19.2},{"date":"2023-07-08","tmax":35.3,"tmin":19.6},{"date":"2023-07-09","tmax":36.5,"tmin":20.2},{"date":"2023-07-10","tmax":35.2,"tmin":23.5},{"date":"2023-07-11","tmax":29.3,"tmin":21.1},{"date":"2023-07-12","tmax":25.8,"tmin":16.2},{"date":"2023-07-13","tmax":26.0,"tmin":14.1},{"date":"2023-07-14","tmax":28.6,"tmin":15.6},{"date":"2023-07-15","tmax":32.4,"tmin":16.4},{"date":"2023-07-16","tmax":34.3,"tmin":18.3},{"date":"2023-07-17","tmax":33.6,"tmin":20.6},{"date":"2023-07-18","tmax":33.3,"tmin":19.7},{"date":"2023-07-19","tmax":33.2,"tmin":19.7},{"date":"2023-07-20","tmax":30.3,"tmin":19.2},{"date":"2023-07-21","tmax":31.5,"tmin":16.4},{"date":"2023-07-22","tmax":33.8,"tmin":14.8},{"date":"2023-07-23","tmax":35.6,"tmin":18.3},{"date":"2023-07-24","tmax":34.8,"tmin":20.4},{"date":"2023-07-25","tmax":34.4,"tmin":21.6},{"date":"2023-07-26","tmax":32.6,"tmin":21.8},{"date":"2023-07-27","tmax":28.6,"tmin":20.2},{"date":"2023-07-28","tmax":32.2,"tmin":17.8},{"date":"2023-07-29","tmax":33.6,"tmin":18.5},{"date":"2023-07-30","tmax":34.2,"tmin":19.1},{"date":"2023-07-31","tmax":33.8,"tmin":20.2},
{"date":"2023-08-01","tmax":31.9,"tmin":20.7},{"date":"2023-08-02","tmax":34.0,"tmin":21.3},{"date":"2023-08-03","tmax":32.3,"tmin":22.4},{"date":"2023-08-04","tmax":32.4,"tmin":20.4},{"date":"2023-08-05","tmax":32.8,"tmin":18.5},{"date":"2023-08-06","tmax":30.3,"tmin":19.5},{"date":"2023-08-07","tmax":32.9,"tmin":19.9},{"date":"2023-08-08","tmax":34.0,"tmin":21.6},{"date":"2023-08-09","tmax":35.2,"tmin":21.9},{"date":"2023-08-10","tmax":32.9,"tmin":20.7},{"date":"2023-08-11","tmax":24.2,"tmin":16.4},{"date":"2023-08-12","tmax":31.7,"tmin":17.6},{"date":"2023-08-13","tmax":34.5,"tmin":19.9},{"date":"2023-08-14","tmax":34.0,"tmin":21.5},{"date":"2023-08-15","tmax":31.9,"tmin":22.9},{"date":"2023-08-16","tmax":27.7,"tmin":19.7},{"date":"2023-08-17","tmax":24.6,"tmin":16.7},{"date":"2023-08-18","tmax":28.2,"tmin":14.5},{"date":"2023-08-19","tmax":30.0,"tmin":17.6},{"date":"2023-08-20","tmax":32.2,"tmin":17.6},{"date":"2023-08-21","tmax":31.7,"tmin":18.4},{"date":"2023-08-22","tmax":31.1,"tmin":19.1},{"date":"2023-08-23","tmax":29.9,"tmin":17.1},{"date":"2023-08-24","tmax":29.7,"tmin":14.9},{"date":"2023-08-25","tmax":24.9,"tmin":14.0},{"date":"2023-08-26","tmax":23.9,"tmin":12.9},{"date":"2023-08-27","tmax":26.3,"tmin":10.8},{"date":"2023-08-28","tmax":28.2,"tmin":11.7},{"date":"2023-08-29","tmax":28.9,"tmin":14.8},{"date":"2023-08-30","tmax":30.5,"tmin":16.3},{"date":"2023-08-31","tmax":29.6,"tmin":17.5},
{"date":"2023-09-01","tmax":30.9,"tmin":17.6},{"date":"2023-09-02","tmax":32.2,"tmin":16.5},{"date":"2023-09-03","tmax":32.6,"tmin":17.6},{"date":"2023-09-04","tmax":32.2,"tmin":19.0},{"date":"2023-09-05","tmax":30.5,"tmin":19.0},{"date":"2023-09-06","tmax":30.5,"tmin":17.4},{"date":"2023-09-07","tmax":25.3,"tmin":13.6},{"date":"2023-09-08","tmax":20.2,"tmin":12.3},{"date":"2023-09-09","tmax":24.9,"tmin":13.6},{"date":"2023-09-10","tmax":27.2,"tmin":14.5},{"date":"2023-09-11","tmax":26.3,"tmin":15.6},{"date":"2023-09-12","tmax":28.4,"tmin":14.1},{"date":"2023-09-13","tmax":29.6,"tmin":15.0},{"date":"2023-09-14","tmax":29.1,"tmin":16.7},{"date":"2023-09-15","tmax":29.7,"tmin":15.5},{"date":"2023-09-16","tmax":29.6,"tmin":14.4},{"date":"2023-09-17","tmax":25.8,"tmin":14.9},{"date":"2023-09-18","tmax":22.3,"tmin":14.1},{"date":"2023-09-19","tmax":21.4,"tmin":13.1},{"date":"2023-09-20","tmax":20.2,"tmin":13.6},{"date":"2023-09-21","tmax":25.3,"tmin":12.3},{"date":"2023-09-22","tmax":21.6,"tmin":12.4},{"date":"2023-09-23","tmax":19.7,"tmin":11.7},{"date":"2023-09-24","tmax":18.1,"tmin":11.2},{"date":"2023-09-25","tmax":18.3,"tmin":11.2},{"date":"2023-09-26","tmax":19.6,"tmin":11.2},{"date":"2023-09-27","tmax":16.9,"tmin":10.2},{"date":"2023-09-28","tmax":19.9,"tmin":9.8},{"date":"2023-09-29","tmax":21.8,"tmin":9.5},{"date":"2023-09-30","tmax":23.9,"tmin":9.1}]
},
"vconcat":[
{
"width":3731,"height":715,
"encoding":{"x":{"field":"date","type":"temporal","title":null,"scale":{"type":"utc","domain":[{"year":2021,"month":3,"date":1,"utc":true},{"year":2021,"month":10,"date":1,"utc":true}]},"axis":{"format":"%-m/%-d","values":[{"year":2021,"month":3,"date":1,"utc":true},{"year":2021,"month":4,"date":1,"utc":true},{"year":2021,"month":5,"date":1,"utc":true},{"year":2021,"month":6,"date":1,"utc":true},{"year":2021,"month":7,"date":1,"utc":true},{"year":2021,"month":8,"date":1,"utc":true},{"year":2021,"month":9,"date":1,"utc":true},{"year":2021,"month":10,"date":1,"utc":true}]}}},
"layer":[
{"layer":[
{"data":{"name":"rain2021"},"mark":{"type":"bar","size":16},
"encoding":{"y":{"field":"rain","type":"quantitative","title":null,"scale":{"domain":[0,25]},"axis":{"orient":"left","values":[0,5,10,15,20,25],"labelBaseline":"alphabetic"}},
"fill":{"datum":"Rain","type":"nominal","scale":{"domain":["Rain"],"range":["#22a8be"]},"legend":{"orient":"none","legendX":1132,"legendY":-130,"title":null,"symbolType":"M-2,-1H2V1H-2Z","symbolSize":3600,"symbolStrokeWidth":0,"labelFontSize":65,"labelFont":"Liberation Serif","labelColor":"black","labelOffset":61,"labelLimit":500}}}},
{"data":{"values":[{"label":"(a) 2021"}]},"mark":{"type":"text","align":"left","baseline":"middle","fontSize":63,"font":"Liberation Serif","color":"black"},
"encoding":{"x":{"datum":{"year":2021,"month":3,"date":3,"hours":21,"utc":true},"type":"temporal"},"y":{"datum":22.55,"type":"quantitative"},"text":{"field":"label"}}}
]},
{"data":{"name":"temp2021"},"layer":[
{"mark":{"type":"line","strokeWidth":6,"strokeDash":[18,17,0.1,17],"strokeCap":"round"},
"encoding":{"y":{"field":"tmax","type":"quantitative","title":null,"scale":{"domain":[-20,40]},"axis":{"orient":"right","values":[-20,-10,0,10,20,30,40],"labelExpr":"''+datum.value"}},
"stroke":{"datum":"Tmax","type":"nominal","scale":{"domain":["Tmax","Tmin"],"range":["#d9000d","#f87878"]},"legend":{"orient":"none","legendX":1813,"legendY":-131,"direction":"horizontal","title":null,"symbolType":"M-2.25,0H2.25","symbolSize":4096,"symbolStrokeWidth":7,"symbolDash":[25,10,5,10],"labelFontSize":65,"labelFont":"Liberation Serif","labelColor":"black","labelOffset":62,"labelLimit":500,"columnPadding":356}}}},
{"mark":{"type":"line","strokeWidth":6,"strokeDash":[18,17,0.1,17],"strokeCap":"round"},
"encoding":{"y":{"field":"tmin","type":"quantitative","title":null},"stroke":{"datum":"Tmin","type":"nominal"}}}
]}
],
"resolve":{"scale":{"y":"independent"}}
},
{
"width":3731,"height":715,
"encoding":{"x":{"field":"date","type":"temporal","title":null,"scale":{"type":"utc","domain":[{"year":2022,"month":3,"date":1,"utc":true},{"year":2022,"month":10,"date":1,"utc":true}]},"axis":{"format":"%-m/%-d","values":[{"year":2022,"month":3,"date":1,"utc":true},{"year":2022,"month":4,"date":1,"utc":true},{"year":2022,"month":5,"date":1,"utc":true},{"year":2022,"month":6,"date":1,"utc":true},{"year":2022,"month":7,"date":1,"utc":true},{"year":2022,"month":8,"date":1,"utc":true},{"year":2022,"month":9,"date":1,"utc":true},{"year":2022,"month":10,"date":1,"utc":true}]}}},
"layer":[
{"layer":[
{"data":{"name":"rain2022"},"mark":{"type":"bar","size":16},
"encoding":{"y":{"field":"rain","type":"quantitative","title":"Precipitation (mm)","scale":{"domain":[0,25]},"axis":{"orient":"left","values":[0,5,10,15,20,25],"titlePadding":14}},
"fill":{"datum":"Rain","type":"nominal","scale":{"domain":["Rain"],"range":["#22a8be"]},"legend":{"orient":"none","legendX":1132,"legendY":-130,"title":null,"symbolType":"M-2,-1H2V1H-2Z","symbolSize":3600,"symbolStrokeWidth":0,"labelFontSize":65,"labelFont":"Liberation Serif","labelColor":"black","labelOffset":61,"labelLimit":500}}}},
{"data":{"values":[{"label":"(b) 2022"}]},"mark":{"type":"text","align":"left","baseline":"middle","fontSize":63,"font":"Liberation Serif","color":"black"},
"encoding":{"x":{"datum":{"year":2022,"month":3,"date":3,"hours":21,"utc":true},"type":"temporal"},"y":{"datum":22.55,"type":"quantitative","title":"Precipitation (mm)"},"text":{"field":"label"}}}
]},
{"data":{"name":"temp2022"},"layer":[
{"mark":{"type":"line","strokeWidth":6,"strokeDash":[18,17,0.1,17],"strokeCap":"round"},
"encoding":{"y":{"field":"tmax","type":"quantitative","title":"Temperature (°C)","scale":{"domain":[-20,40]},"axis":{"orient":"right","values":[-20,-10,0,10,20,30,40],"labelExpr":"''+datum.value","titleAngle":270,"titleBaseline":"top","titlePadding":26}},
"stroke":{"datum":"Tmax","type":"nominal","scale":{"domain":["Tmax","Tmin"],"range":["#d9000d","#f87878"]},"legend":{"orient":"none","legendX":1813,"legendY":-131,"direction":"horizontal","title":null,"symbolType":"M-2.25,0H2.25","symbolSize":4096,"symbolStrokeWidth":7,"symbolDash":[25,10,5,10],"labelFontSize":65,"labelFont":"Liberation Serif","labelColor":"black","labelOffset":62,"labelLimit":500,"columnPadding":356}}}},
{"mark":{"type":"line","strokeWidth":6,"strokeDash":[18,17,0.1,17],"strokeCap":"round"},
"encoding":{"y":{"field":"tmin","type":"quantitative","title":"Temperature (°C)"},"stroke":{"datum":"Tmin","type":"nominal"}}}
]}
],
"resolve":{"scale":{"y":"independent"}}
},
{
"width":3731,"height":715,
"encoding":{"x":{"field":"date","type":"temporal","title":"Date","scale":{"type":"utc","domain":[{"year":2023,"month":3,"date":1,"utc":true},{"year":2023,"month":10,"date":1,"utc":true}]},"axis":{"format":"%-m/%-d","titlePadding":45,"values":[{"year":2023,"month":3,"date":1,"utc":true},{"year":2023,"month":4,"date":1,"utc":true},{"year":2023,"month":5,"date":1,"utc":true},{"year":2023,"month":6,"date":1,"utc":true},{"year":2023,"month":7,"date":1,"utc":true},{"year":2023,"month":8,"date":1,"utc":true},{"year":2023,"month":9,"date":1,"utc":true},{"year":2023,"month":10,"date":1,"utc":true}]}}},
"layer":[
{"layer":[
{"data":{"name":"rain2023"},"mark":{"type":"bar","size":16},
"encoding":{"y":{"field":"rain","type":"quantitative","title":null,"scale":{"domain":[0,25]},"axis":{"orient":"left","values":[0,5,10,15,20,25]}},
"fill":{"datum":"Rain","type":"nominal","scale":{"domain":["Rain"],"range":["#22a8be"]},"legend":{"orient":"none","legendX":1132,"legendY":-130,"title":null,"symbolType":"M-2,-1H2V1H-2Z","symbolSize":3600,"symbolStrokeWidth":0,"labelFontSize":65,"labelFont":"Liberation Serif","labelColor":"black","labelOffset":61,"labelLimit":500}}}},
{"data":{"values":[{"label":"(c) 2023"}]},"mark":{"type":"text","align":"left","baseline":"middle","fontSize":63,"font":"Liberation Serif","color":"black"},
"encoding":{"x":{"datum":{"year":2023,"month":3,"date":3,"hours":21,"utc":true},"type":"temporal","title":"Date"},"y":{"datum":22.55,"type":"quantitative"},"text":{"field":"label"}}}
]},
{"data":{"name":"temp2023"},"layer":[
{"mark":{"type":"line","strokeWidth":6,"strokeDash":[18,17,0.1,17],"strokeCap":"round"},
"encoding":{"y":{"field":"tmax","type":"quantitative","title":null,"scale":{"domain":[-20,40]},"axis":{"orient":"right","values":[-20,-10,0,10,20,30,40],"labelExpr":"''+datum.value"}},
"stroke":{"datum":"Tmax","type":"nominal","scale":{"domain":["Tmax","Tmin"],"range":["#d9000d","#f87878"]},"legend":{"orient":"none","legendX":1813,"legendY":-131,"direction":"horizontal","title":null,"symbolType":"M-2.25,0H2.25","symbolSize":4096,"symbolStrokeWidth":7,"symbolDash":[25,10,5,10],"labelFontSize":65,"labelFont":"Liberation Serif","labelColor":"black","labelOffset":62,"labelLimit":500,"columnPadding":356}}}},
{"mark":{"type":"line","strokeWidth":6,"strokeDash":[18,17,0.1,17],"strokeCap":"round"},
"encoding":{"y":{"field":"tmin","type":"quantitative","title":null},"stroke":{"datum":"Tmin","type":"nominal"}}}
]}
],
"resolve":{"scale":{"y":"independent"}}
}
],
"resolve":{"scale":{"x":"independent","y":"independent","fill":"shared","stroke":"shared"}}
}
